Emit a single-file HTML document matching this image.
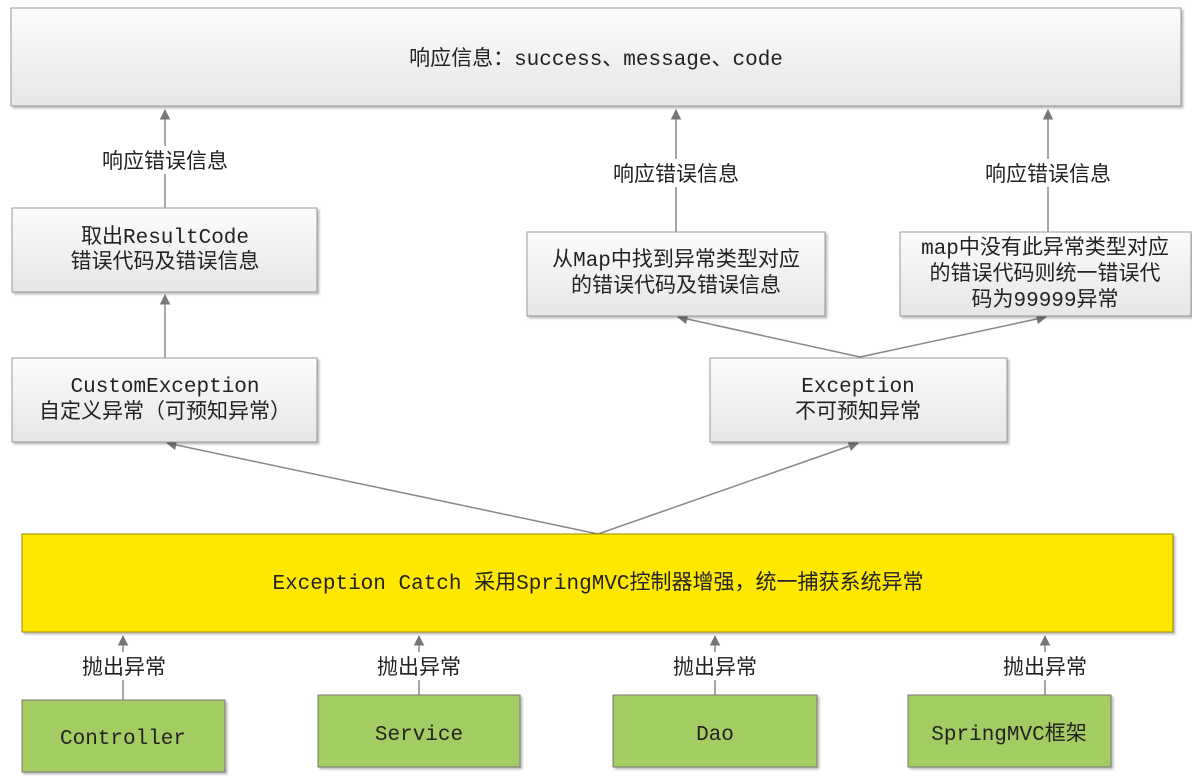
<!DOCTYPE html>
<html><head><meta charset="utf-8"><style>
html,body{margin:0;padding:0;background:#fff;}
svg text{font-family:"Liberation Mono","Noto Sans CJK SC",monospace;font-size:21px;fill:#222;}
</style></head><body>
<svg width="1192" height="776" viewBox="0 0 1192 776" xmlns="http://www.w3.org/2000/svg">
<defs>
<linearGradient id="g" x1="0" y1="0" x2="0" y2="1"><stop offset="0" stop-color="#fcfcfc"/><stop offset="1" stop-color="#e6e6e6"/></linearGradient>
<marker id="a" viewBox="0 0 10 10" refX="9" refY="5" markerWidth="7" markerHeight="7" orient="auto"><path d="M0,0 L10,5 L0,10 z" fill="#777"/></marker>
<filter id="s"><feDropShadow dx="2" dy="2" stdDeviation="1" flood-color="#000" flood-opacity="0.25"/></filter>
</defs>
<g stroke="#888" stroke-width="1.5" fill="none">
<line x1="165" y1="208" x2="165" y2="110" marker-end="url(#a)"/>
<line x1="165" y1="358" x2="165" y2="295" marker-end="url(#a)"/>
<line x1="676" y1="232" x2="676" y2="110" marker-end="url(#a)"/>
<line x1="1048" y1="232" x2="1048" y2="110" marker-end="url(#a)"/>
<line x1="860" y1="357" x2="678" y2="317" marker-end="url(#a)"/>
<line x1="860" y1="357" x2="1046" y2="317" marker-end="url(#a)"/>
<line x1="598" y1="534" x2="167" y2="443" marker-end="url(#a)"/>
<line x1="598" y1="534" x2="858" y2="443" marker-end="url(#a)"/>
<line x1="123" y1="700" x2="123" y2="636" marker-end="url(#a)"/>
<line x1="419" y1="695" x2="419" y2="636" marker-end="url(#a)"/>
<line x1="715" y1="695" x2="715" y2="636" marker-end="url(#a)"/>
<line x1="1045" y1="695" x2="1045" y2="636" marker-end="url(#a)"/>
</g>
<g stroke="#999" stroke-width="1" filter="url(#s)">
<rect x="11" y="8" width="1170" height="98" fill="url(#g)"/>
<rect x="12" y="208" width="305" height="84" fill="url(#g)"/>
<rect x="12" y="358" width="305" height="84" fill="url(#g)"/>
<rect x="527" y="232" width="298" height="84" fill="url(#g)"/>
<rect x="900" y="232" width="291" height="84" fill="url(#g)"/>
<rect x="710" y="358" width="297" height="84" fill="url(#g)"/>
<rect x="22" y="534" width="1151" height="98" fill="#ffe800" stroke="#998800"/>
<rect x="22" y="700" width="203" height="72" fill="#a3cc63" stroke="#777"/>
<rect x="318" y="695" width="202" height="72" fill="#a3cc63" stroke="#777"/>
<rect x="613" y="695" width="204" height="72" fill="#a3cc63" stroke="#777"/>
<rect x="908" y="695" width="203" height="72" fill="#a3cc63" stroke="#777"/>
</g>
<g fill="#fff">
<rect x="92" y="146" width="146" height="28"/>
<rect x="603" y="159" width="146" height="28"/>
<rect x="975" y="159" width="146" height="28"/>
<rect x="76" y="652" width="96" height="28"/>
<rect x="371" y="652" width="96" height="28"/>
<rect x="667" y="652" width="96" height="28"/>
<rect x="997" y="652" width="96" height="28"/>
</g>
<g text-anchor="middle">
<text x="596" y="65">响应信息：success、message、code</text>
<text x="165" y="168">响应错误信息</text>
<text x="676" y="181">响应错误信息</text>
<text x="1048" y="181">响应错误信息</text>
<text x="165" y="243">取出ResultCode</text>
<text x="165" y="268">错误代码及错误信息</text>
<text x="165" y="392">CustomException</text>
<text x="165" y="418">自定义异常（可预知异常）</text>
<text x="676" y="266">从Map中找到异常类型对应</text>
<text x="676" y="292">的错误代码及错误信息</text>
<text x="1045" y="254">map中没有此异常类型对应</text>
<text x="1045" y="280">的错误代码则统一错误代</text>
<text x="1045" y="306">码为99999异常</text>
<text x="858" y="392">Exception</text>
<text x="858" y="418">不可预知异常</text>
<text x="598" y="589">Exception Catch 采用SpringMVC控制器增强，统一捕获系统异常</text>
<text x="124" y="674">抛出异常</text>
<text x="419" y="674">抛出异常</text>
<text x="715" y="674">抛出异常</text>
<text x="1045" y="674">抛出异常</text>
<text x="123" y="744">Controller</text>
<text x="419" y="740">Service</text>
<text x="715" y="740">Dao</text>
<text x="1009" y="740">SpringMVC框架</text>
</g>
</svg>
</body></html>
